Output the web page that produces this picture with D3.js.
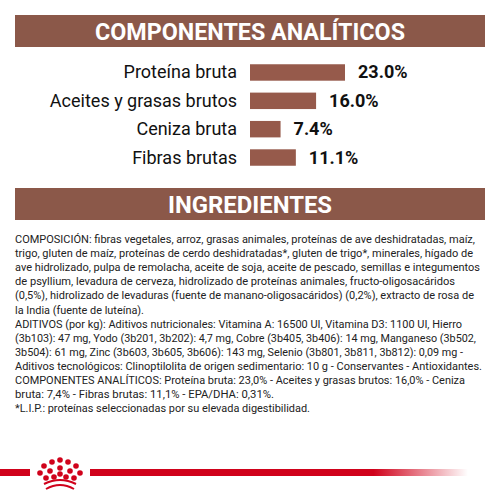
<!DOCTYPE html><html><head><meta charset="utf-8"><script src="https://cdn.jsdelivr.net/npm/d3@7"></script>
<style>body{margin:0;background:#fff}</style></head><body><script>
const categories=["Proteína bruta","Aceites y grasas brutos","Ceniza bruta","Fibras brutas"];
const values=[23.0,16.0,7.4,11.1];
const valueLabels=["23.0%","16.0%","7.4%","11.1%"];
const headers=["COMPONENTES ANALÍTICOS","INGREDIENTES"];
const lines=["COMPOSICIÓN: fibras vegetales, arroz, grasas animales, proteínas de ave deshidratadas, maíz,",
"trigo, gluten de maíz, proteínas de cerdo deshidratadas*, gluten de trigo*, minerales, hígado de",
"ave hidrolizado, pulpa de remolacha, aceite de soja, aceite de pescado, semillas e integumentos",
"de psyllium, levadura de cerveza, hidrolizado de proteínas animales, fructo-oligosacáridos",
"(0,5%), hidrolizado de levaduras (fuente de manano-oligosacáridos) (0,2%), extracto de rosa de",
"la India (fuente de luteína).",
"ADITIVOS (por kg): Aditivos nutricionales: Vitamina A: 16500 UI, Vitamina D3: 1100 UI, Hierro",
"(3b103): 47 mg, Yodo (3b201, 3b202): 4,7 mg, Cobre (3b405, 3b406): 14 mg, Manganeso (3b502,",
"3b504): 61 mg, Zinc (3b603, 3b605, 3b606): 143 mg, Selenio (3b801, 3b811, 3b812): 0,09 mg -",
"Aditivos tecnológicos: Clinoptilolita de origen sedimentario: 10 g - Conservantes - Antioxidantes.",
"COMPONENTES ANALÍTICOS: Proteína bruta: 23,0% - Aceites y grasas brutos: 16,0% - Ceniza",
"bruta: 7,4% - Fibras brutas: 11,1% - EPA/DHA: 0,31%.",
"*L.I.P.: proteínas seleccionadas por su elevada digestibilidad."];
const lineWidths=[460,458,465,440,459,129,447,461,448,467,450,259,295];
const svg=d3.select("body").append("svg").attr("width",500).attr("height",500);
const brown="#8b5849",barc="#965a4b";
const hy=[15,188],hw=[310,164];
headers.forEach((h,i)=>{svg.append("rect").attr("x",15).attr("y",hy[i]).attr("width",470).attr("height",32).attr("fill",brown);
svg.append("text").attr("x",250).attr("y",hy[i]+25).attr("text-anchor","middle").attr("fill","#fff").attr("font-family","Roboto, sans-serif").attr("font-weight",700).attr("font-size",24).attr("textLength",hw[i]).attr("lengthAdjust","spacingAndGlyphs").text(h);});
const x=d3.scaleLinear().domain([0,23]).range([0,95]);
const y=d3.scaleBand().domain(categories).range([60,170]).paddingInner(0.42).paddingOuter(0.15);
const g=svg.append("g");
categories.forEach((c,i)=>{const yy=y(c),h=y.bandwidth();
g.append("rect").attr("x",250).attr("y",yy).attr("width",x(values[i])).attr("height",h).attr("fill",barc);
g.append("text").attr("x",237).attr("y",yy+h/2+6).attr("text-anchor","end").attr("font-family","Roboto, sans-serif").attr("font-size",18).attr("fill","#111").text(c);
g.append("text").attr("x",250+x(values[i])+13).attr("y",yy+h/2+6).attr("font-family","Roboto, sans-serif").attr("font-weight",700).attr("font-size",18).attr("fill","#111").text(valueLabels[i]);});
lines.forEach((l,i)=>svg.append("text").attr("x",15).attr("y",243+i*14.1).attr("font-family","Roboto, sans-serif").attr("font-size",11.5).attr("fill","#222").attr("textLength",lineWidths[i]).attr("lengthAdjust","spacingAndGlyphs").text(l));
const defs=svg.append("defs");const gr=defs.append("linearGradient").attr("id","gr");
gr.append("stop").attr("offset","0.75").attr("stop-color","#d0021b");gr.append("stop").attr("offset","1").attr("stop-color","#d0021b").attr("stop-opacity",0);
svg.append("rect").attr("x",0).attr("y",469).attr("width",30).attr("height",7).attr("fill","#d0021b");
svg.append("rect").attr("x",90).attr("y",469).attr("width",378).attr("height",7).attr("fill","url(#gr)");
const dots=[[60,460],[52,462],[68,462],[44,466],[76,466],[40,473],[80,473],[50,471],[60,468],[70,471],[54,477],[66,477],[46,478],[74,478],[60,474]];
dots.forEach(d=>svg.append("circle").attr("cx",d[0]).attr("cy",d[1]).attr("r",2.8).attr("fill","#d0021b"));
svg.append("path").attr("d","M44,484 Q60,476 76,484").attr("stroke","#d0021b").attr("stroke-width",2).attr("fill","none");
svg.append("path").attr("d","M46,489 Q60,481 74,489").attr("stroke","#d0021b").attr("stroke-width",2).attr("fill","none");
</script></body></html>
